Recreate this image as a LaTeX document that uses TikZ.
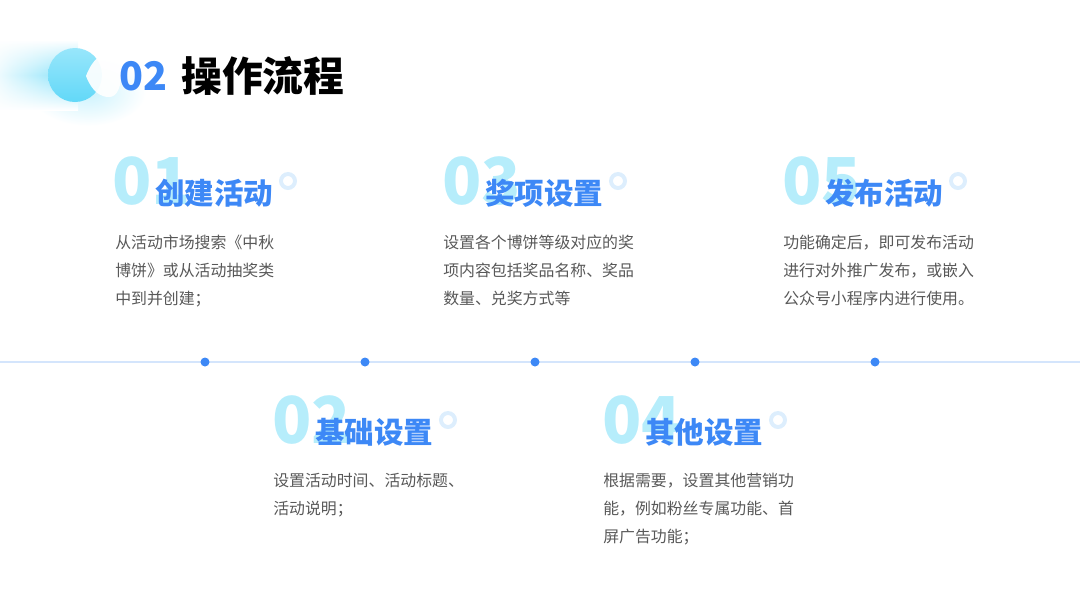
\documentclass[tikz,border=0pt]{standalone}
\usepackage{fontspec}
\setmainfont{Noto Sans CJK SC}
\usetikzlibrary{fadings}
\definecolor{mainblue}{HTML}{3D88F6}
\definecolor{numcyan}{HTML}{B6EDFB}
\definecolor{ringblue}{HTML}{DDEEFD}
\definecolor{linecol}{HTML}{D4E5FC}
\definecolor{bodygray}{HTML}{585858}
\definecolor{decocyan}{HTML}{7EE0FA}
\definecolor{decodeep}{HTML}{62D8F8}
\tikzfading[name=fadeRight, left color=transparent!0, right color=transparent!100]

\begin{document}
\begin{tikzpicture}[x=0.025cm,y=-0.025cm,
    num/.style={anchor=west,inner sep=0,text=numcyan,font=\fontsize{46}{46}\selectfont\bfseries},
    head/.style={anchor=west,inner sep=0,text=mainblue,font=\fontsize{21}{21}\selectfont\bfseries},
    body/.style={anchor=north west,inner sep=0,align=left,text=bodygray,font=\fontsize{11.3}{19.8}\selectfont},
    ring/.style={draw=ringblue,line width=2.8pt},
    dot/.style={circle,fill=mainblue,inner sep=0,minimum size=6.4pt}]
    \useasboundingbox (0,0) rectangle (1080,607);
    % title decoration
    \shade[inner color=decocyan!40,outer color=white] (88,92) ellipse (58 and 34);
    \shade[top color=white,bottom color=white,middle color=decocyan] (0,40) rectangle (78,110);
    \fill[white,path fading=fadeRight,fill opacity=0.85] (0,40) rectangle (78,110);
    \shade[top color=decocyan!80,bottom color=decodeep] (75,75) circle (27);
    \fill[white,opacity=0.92] (86,76) .. controls (93,58) and (102,53) .. (109,53)
        .. controls (117,53) and (121,64) .. (121,75) .. controls (121,87) and (117,97) .. (109,97)
        .. controls (101,97) and (92,92) .. (86,76) -- cycle;
    \node[anchor=west,inner sep=0,text=mainblue,font=\fontsize{28}{28}\selectfont\bfseries] (tnum) at (119,76) {02};
    \node[anchor=west,inner sep=0,font=\fontsize{29}{29}\selectfont\bfseries] (title) at (181,76) {操作流程};

    % timeline
    \coordinate (lineL) at (0,362);
    \coordinate (lineR) at (1080,362);
    \draw[linecol,line width=1.4pt] (lineL) -- (lineR);
    \node[dot] (d1) at (205,362) {};
    \node[dot] (d2) at (365,362) {};
    \node[dot] (d3) at (535,362) {};
    \node[dot] (d4) at (695,362) {};
    \node[dot] (d5) at (875,362) {};

    % step 1
    \node[num] (num1) at (112,181) {01};
    \node[head] (head1) at (155,193) {创建活动};
    \draw[ring] (288,181) circle (7);
    \node[body] (body1) at (115,235) {从活动市场搜索《中秋\\博饼》或从活动抽奖类\\中到并创建；};

    % step 3
    \node[num] (num3) at (442,181) {03};
    \node[head] (head3) at (485,193) {奖项设置};
    \draw[ring] (618,181) circle (7);
    \node[body] (body3) at (443,235) {设置各个博饼等级对应的奖\\项内容包括奖品名称、奖品\\数量、兑奖方式等};

    % step 5
    \node[num] (num5) at (782,181) {05};
    \node[head] (head5) at (825,193) {发布活动};
    \draw[ring] (958,181) circle (7);
    \node[body] (body5) at (783,235) {功能确定后，即可发布活动\\进行对外推广发布，或嵌入\\公众号小程序内进行使用。};

    % step 2
    \node[num] (num2) at (272,420) {02};
    \node[head] (head2) at (315,432) {基础设置};
    \draw[ring] (448,420) circle (7);
    \node[body] (body2) at (273,473) {设置活动时间、活动标题、\\活动说明；};

    % step 4
    \node[num] (num4) at (602,420) {04};
    \node[head] (head4) at (645,432) {其他设置};
    \draw[ring] (778,420) circle (7);
    \node[body] (body4) at (603,473) {根据需要，设置其他营销功\\能，例如粉丝专属功能、首\\屏广告功能；};
\end{tikzpicture}
\end{document}
